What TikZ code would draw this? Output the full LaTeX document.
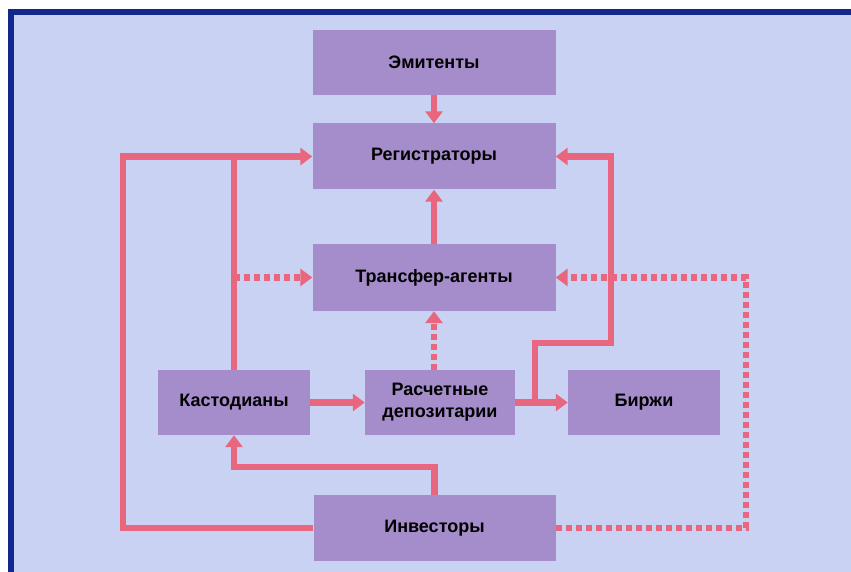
\documentclass[tikz,border=0pt]{standalone}
\usepackage{fontspec}
\setmainfont{Liberation Sans}
\usetikzlibrary{arrows.meta,calc}
\definecolor{bgc}{HTML}{C9D2F2}
\definecolor{boxc}{HTML}{A58CCA}
\definecolor{arrc}{HTML}{E8677F}
\definecolor{framec}{HTML}{12288A}
\tikzset{
  box/.style={fill=boxc, draw=none, inner sep=0pt, align=center,
    font=\fontsize{18}{22}\selectfont\bfseries},
  link/.style={draw=arrc, line width=6.5pt},
  dlink/.style={draw=arrc, line width=6.5pt, dash pattern=on 6pt off 4pt},
  tip/.style={-{Triangle[width=17pt,length=12pt]}},
}
\begin{document}
\begin{tikzpicture}[x=1pt,y=-1pt]
\useasboundingbox (0,0) rectangle (851,572);
\fill[white] (0,0) rectangle (851,572);
\fill[bgc] (11,12) rectangle (851,572);
\fill[framec] (8,9) rectangle (851,15);
\fill[framec] (8,9) rectangle (14,572);

\node[box, minimum width=243pt, minimum height=65pt] (em)  at (434,62.5) {Эмитенты};
\node[box, minimum width=243pt, minimum height=66pt] (reg) at (434,156.5) {Регистраторы};
\node[box, minimum width=243pt, minimum height=67pt] (ta)  at (434,277.5) {Трансфер-агенты};
\node[box, minimum width=152pt, minimum height=65pt] (kas) at (234,402.5) {Кастодианы};
\node[box, minimum width=150pt, minimum height=65pt] (rd)  at (440,402.5) {Расчетные\\депозитарии};
\node[box, minimum width=152pt, minimum height=65pt] (bir) at (644,402.5) {Биржи};
\node[box, minimum width=242pt, minimum height=66pt] (inv) at (434.5,528) {Инвесторы};

\coordinate (lc) at (123,528);
\coordinate (rj) at (611,343);
\coordinate (rc) at (746,528);
\coordinate (kb) at (234,467);

\draw[link,tip] (em.south) -- (reg.north);
\draw[link,tip] (ta.north) -- (reg.south);
\draw[link,tip] (inv.west) -- (lc) |- (reg.west);
\draw[link] (kas.north) -- (kas.north |- reg.west);
\draw[dlink,tip] (kas.north |- ta.west) -- (ta.west);
\draw[link,tip] (kas.east) -- (rd.east -| rd.west);
\draw[link,tip] (rd.east) -- (bir.west);
\draw[link,tip] ($(rd.east)+(20,0)$) |- (rj) |- (reg.east);
\draw[dlink,tip] (ta.south |- rd.north) -- (ta.south);
\draw[dlink,tip] (inv.east) -- (rc) |- (ta.east);
\draw[link,tip] (inv.north) |- (kb) -- (kas.south);
\end{tikzpicture}
\end{document}
